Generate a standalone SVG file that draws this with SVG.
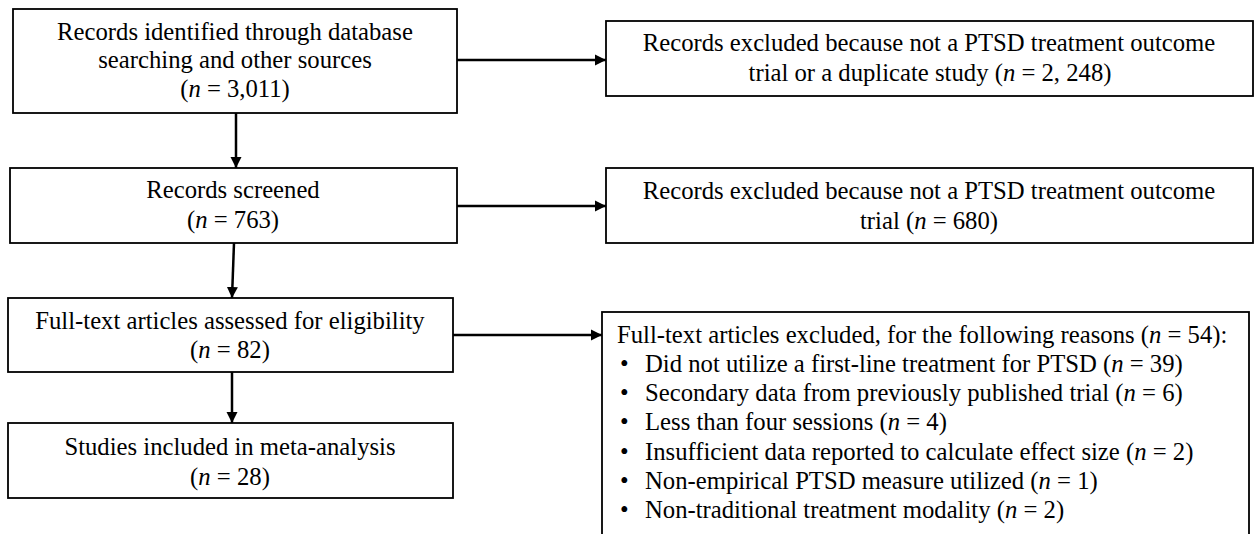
<svg xmlns="http://www.w3.org/2000/svg" width="1256" height="534" viewBox="0 0 1256 534">
<style>
.box{fill:#fff;stroke:#000;stroke-width:1.8}
.t{font-family:"Liberation Serif","Times New Roman",serif;font-size:24.7px;fill:#000}
.c{text-anchor:middle}
.i{font-style:italic}
.ln{stroke:#000;stroke-width:2.5;fill:none}
</style>
<defs>
<marker id="ah" viewBox="0 0 11 12" refX="11" refY="6" markerWidth="11" markerHeight="12" markerUnits="userSpaceOnUse" orient="auto">
<path d="M0,0.5 L11,6 L0,11.5 Z" fill="#000"/>
</marker>
</defs>
<rect width="1256" height="534" fill="#fff"/>
<g id="connectors">
<line class="ln" x1="457" y1="60" x2="606" y2="60" marker-end="url(#ah)"/>
<line class="ln" x1="236" y1="113" x2="236" y2="168" marker-end="url(#ah)"/>
<line class="ln" x1="457" y1="206" x2="606" y2="206" marker-end="url(#ah)"/>
<line class="ln" x1="234" y1="243" x2="232" y2="298" marker-end="url(#ah)"/>
<line class="ln" x1="453" y1="335" x2="602" y2="335" marker-end="url(#ah)"/>
<line class="ln" x1="232" y1="372" x2="232" y2="423" marker-end="url(#ah)"/>
</g>
<g id="identified">
<rect class="box" x="13" y="9" width="444" height="104"/>
<text class="t c" x="235" y="40">Records identified through database</text>
<text class="t c" x="235" y="68">searching and other sources</text>
<text class="t c" x="235" y="97">(<tspan class="i">n</tspan> = 3,011)</text>
</g>
<g id="excluded1">
<rect class="box" x="606" y="21" width="647" height="75"/>
<text class="t c" x="929" y="51">Records excluded because not a PTSD treatment outcome</text>
<text class="t c" x="930" y="81">trial or a duplicate study (<tspan class="i">n</tspan> = 2, 248)</text>
</g>
<g id="screened">
<rect class="box" x="10" y="168" width="447" height="75"/>
<text class="t c" x="233" y="198">Records screened</text>
<text class="t c" x="233" y="228">(<tspan class="i">n</tspan> = 763)</text>
</g>
<g id="excluded2">
<rect class="box" x="606" y="168" width="647" height="75"/>
<text class="t c" x="929" y="199">Records excluded because not a PTSD treatment outcome</text>
<text class="t c" x="929" y="229">trial (<tspan class="i">n</tspan> = 680)</text>
</g>
<g id="fulltext">
<rect class="box" x="8" y="298" width="445" height="74"/>
<text class="t c" x="230" y="329">Full-text articles assessed for eligibility</text>
<text class="t c" x="230" y="358">(<tspan class="i">n</tspan> = 82)</text>
</g>
<g id="included">
<rect class="box" x="8" y="423" width="445" height="75"/>
<text class="t c" x="230" y="455">Studies included in meta-analysis</text>
<text class="t c" x="230" y="485">(<tspan class="i">n</tspan> = 28)</text>
</g>
<g id="excluded3">
<rect class="box" x="602" y="312" width="647" height="240"/>
<text class="t" x="617" y="343">Full-text articles excluded, for the following reasons (<tspan class="i">n</tspan> = 54):</text>
<text class="t" x="620" y="372">•</text><text class="t" x="645" y="372">Did not utilize a first-line treatment for PTSD (<tspan class="i">n</tspan> = 39)</text>
<text class="t" x="620" y="401">•</text><text class="t" x="645" y="401">Secondary data from previously published trial (<tspan class="i">n</tspan> = 6)</text>
<text class="t" x="620" y="430">•</text><text class="t" x="645" y="430">Less than four sessions (<tspan class="i">n</tspan> = 4)</text>
<text class="t" x="620" y="460">•</text><text class="t" x="645" y="460">Insufficient data reported to calculate effect size (<tspan class="i">n</tspan> = 2)</text>
<text class="t" x="620" y="489">•</text><text class="t" x="645" y="489">Non-empirical PTSD measure utilized (<tspan class="i">n</tspan> = 1)</text>
<text class="t" x="620" y="518">•</text><text class="t" x="645" y="518">Non-traditional treatment modality (<tspan class="i">n</tspan> = 2)</text>
</g>
</svg>
